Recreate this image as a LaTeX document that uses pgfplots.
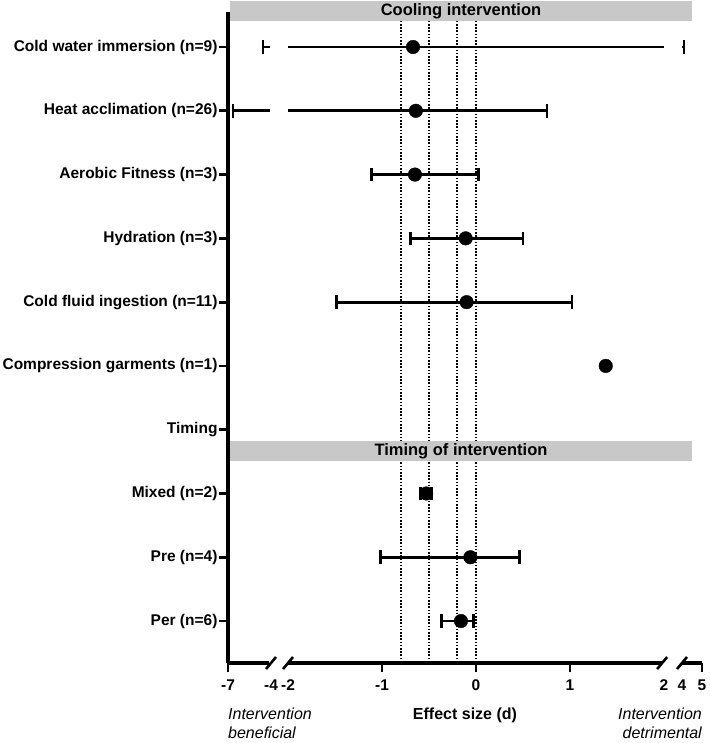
\documentclass[border=0pt]{standalone}
\usepackage{pgfplots}
\pgfplotsset{compat=1.18}
\usepackage{fontspec}
\setmainfont{Liberation Sans}
\usetikzlibrary{calc}
\definecolor{bandgray}{RGB}{200,200,200}

% broken x axis: -7..-4 and 4..5 are squeezed next to -2..2
\pgfplotsset{
  brk/.style={x filter/.code={%
    \edef\myx{\pgfmathresult}%
    \pgfmathparse{ifthenelse(\myx<-3,-2.181+(\myx+4)*0.1525,ifthenelse(\myx>3,2.191+(\myx-4)*0.2128,\myx))}}},
  ci/.style={brk, black, line width=2.8pt, mark=none},
  cap/.style={brk, black, only marks, mark=|, mark size=6.8pt, mark options={line width=2.8pt}},
  est/.style={brk, black, only marks, mark=*, mark size=6.8pt},
  ref/.style={black, line width=1.8pt, dash pattern=on 1.6pt off 1.6pt, mark=none},
}

\begin{document}
\begin{tikzpicture}
\begin{axis}[
    scale only axis,
    width=474pt, height=651pt,
    xmin=-2.6385, xmax=2.404,
    ymin=0.451, ymax=10.658,
    y dir=reverse,
    clip=false,
    axis x line*=bottom, axis y line*=left,
    x axis line style={draw=none},
    y axis line style={line width=3.2pt},
    tick style={black, line width=2.8pt},
    tick align=outside,
    major tick length=9pt,
    xtick={-2.6385,-1,0,1,2.404},
    xticklabels={-7,-1,0,1,5},
    extra x ticks={-2.181,-2,2,2.191},
    extra x tick labels={-4,-2,2,4},
    extra x tick style={major tick length=0pt, xticklabel style={yshift=-9pt}},
    ytick={1,...,10},
    yticklabels={Cold water immersion (n=9),Heat acclimation (n=26),Aerobic Fitness (n=3),Hydration (n=3),Cold fluid ingestion (n=11),Compression garments (n=1),Timing,Mixed (n=2),Pre (n=4),Per (n=6)},
    ticklabel style={font=\fontsize{15.5}{18}\selectfont\bfseries},
    yticklabel style={xshift=2pt},
    xticklabel style={yshift=-4pt},
    xlabel={Effect size (d)},
    xlabel style={font=\fontsize{16}{19}\selectfont\bfseries, yshift=-2pt},
]
% reference lines
\addplot[ref] coordinates {(-0.8,0.59) (-0.8,10.658)};
\addplot[ref] coordinates {(-0.5,0.59) (-0.5,10.658)};
\addplot[ref] coordinates {(-0.2,0.59) (-0.2,10.658)};
\addplot[ref] coordinates {(0,0.59) (0,10.658)};

% section bands
\fill[bandgray] (axis cs:-2.62,0.28) rectangle (axis cs:2.298,0.592);
\node[font=\fontsize{16.5}{19}\selectfont\bfseries] at (axis cs:-0.16,0.436) {Cooling intervention};
\fill[bandgray] (axis cs:-2.62,7.175) rectangle (axis cs:2.298,7.489);
\node[font=\fontsize{16.5}{19}\selectfont\bfseries] at (axis cs:-0.16,7.332) {Timing of intervention};

% x axis line with breaks
\draw[line width=3.2pt] (axis cs:-2.6385,10.658) -- (axis cs:-2.20,10.658);
\draw[line width=3.2pt] (axis cs:-2.0,10.658) -- (axis cs:1.98,10.658);
\draw[line width=3.2pt] (axis cs:2.191,10.658) -- (axis cs:2.404,10.658);
\draw[line width=2.6pt] (axis cs:-2.181,10.658) ++(-5pt,-6pt) -- ++(10pt,12pt);
\draw[line width=2.6pt] (axis cs:-2.0,10.658) ++(-5pt,-6pt) -- ++(10pt,12pt);
\draw[line width=2.6pt] (axis cs:1.98,10.658) ++(-5pt,-6pt) -- ++(10pt,12pt);
\draw[line width=2.6pt] (axis cs:2.191,10.658) ++(-5pt,-6pt) -- ++(10pt,12pt);

% confidence intervals (broken where the axis is broken)
\addplot[ci] coordinates {(-4.56,1) (-4.1,1)};
\addplot[ci] coordinates {(-2,1) (2,1)};
\addplot[ci] coordinates {(4.02,1) (4.10,1)};
\addplot[ci] coordinates {(-6.65,2) (-4.1,2)};
\addplot[ci] coordinates {(-2,2) (0.755,2)};
\addplot[ci] coordinates {(-1.11,3) (0.03,3)};
\addplot[ci] coordinates {(-0.70,4) (0.50,4)};
\addplot[ci] coordinates {(-1.48,5) (1.02,5)};
\addplot[ci] coordinates {(-0.59,8) (-0.47,8)};
\addplot[ci] coordinates {(-1.02,9) (0.46,9)};
\addplot[ci] coordinates {(-0.37,10) (-0.03,10)};

% CI end caps
\addplot[cap] coordinates {(-4.56,1) (4.10,1) (-6.65,2) (0.755,2)
  (-1.11,3) (0.03,3) (-0.70,4) (0.50,4) (-1.48,5) (1.02,5)
  (-0.59,8) (-0.47,8) (-1.02,9) (0.46,9) (-0.37,10) (-0.03,10)};

% point estimates
\addplot[est] coordinates {(-0.67,1) (-0.64,2) (-0.65,3) (-0.11,4) (-0.10,5)
  (1.38,6) (-0.53,8) (-0.06,9) (-0.16,10)};

\coordinate (sw) at (rel axis cs:0,0);
\coordinate (ne) at (rel axis cs:1,1);
\end{axis}
\node[font=\fontsize{16}{19}\selectfont\itshape, anchor=north west, align=left, inner sep=0pt]
  at ($(sw)+(0pt,-45pt)$) {Intervention\\beneficial};
\node[font=\fontsize{16}{19}\selectfont\itshape, anchor=north east, align=right, inner sep=0pt]
  at ($(sw)+(474pt,-45pt)$) {Intervention\\detrimental};
\pgfresetboundingbox
\path[use as bounding box] ($(sw)+(-228pt,-80pt)$) rectangle ($(ne)+(7pt,12pt)$);
\end{tikzpicture}
\end{document}
